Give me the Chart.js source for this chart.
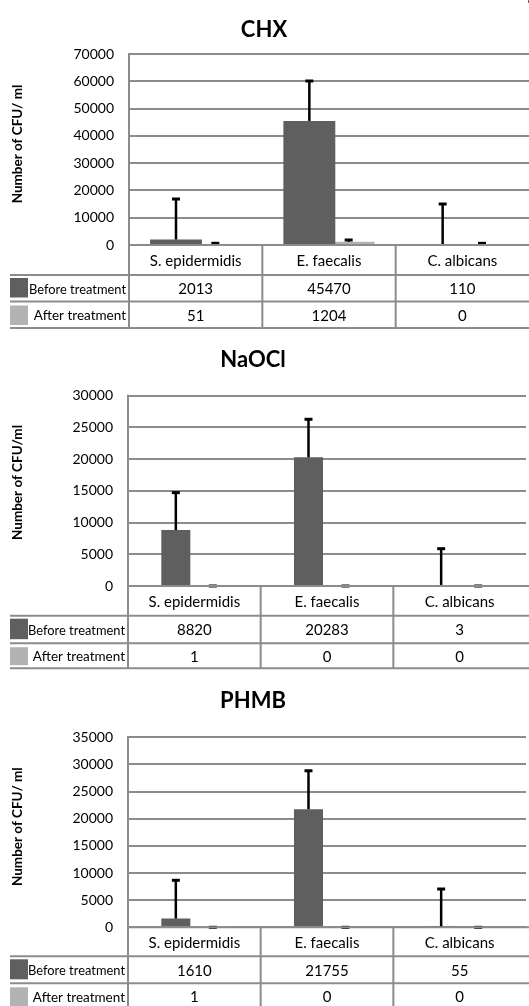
<!DOCTYPE html>
<html><head><meta charset="utf-8">
<script src="https://cdn.jsdelivr.net/npm/chart.js@4.4.1/dist/chart.umd.min.js"></script>
<style>
html,body{margin:0;padding:0;background:#fff;width:529px;height:1006px;overflow:hidden;position:relative;}
.wrap{position:absolute;left:0;width:529px;}
#frag{position:absolute;left:15px;top:-16px;font-family:"Liberation Serif",serif;font-size:21px;line-height:17px;white-space:nowrap;word-spacing:17px;color:#111;}
</style></head><body>
<div id="frag">was evident decrease in the number of microorganisms</div>
<div class="wrap" style="top:0;height:330px"><canvas id="c1"></canvas></div>
<div class="wrap" style="top:330px;height:340px"><canvas id="c2"></canvas></div>
<div class="wrap" style="top:670px;height:336px"><canvas id="c3"></canvas></div>
<script>
const categories = ["S. epidermidis", "E. faecalis", "C. albicans"];
const seriesNames = ["Before treatment", "After treatment"];

const chxBefore = [2013, 45470, 110];
const chxAfter = [51, 1204, 0];
const chxErrBefore = [14840, 14640, 14910];
const chxErrAfter = [570, 630, 620];

const naoclBefore = [8820, 20283, 3];
const naoclAfter = [1, 0, 0];
const naoclErrBefore = [5900, 6000, 5880];
const naoclErrAfter = [0, 0, 0];

const phmbBefore = [1610, 21755, 55];
const phmbAfter = [1, 0, 0];
const phmbErrBefore = [7050, 7080, 7000];
const phmbErrAfter = [0, 0, 0];

const chxAxis = {max: 70000, step: 10000};
const naoclAxis = {max: 30000, step: 5000};
const phmbAxis = {max: 35000, step: 5000};

const DARK = '#5f5f5f', LIGHT = '#b3b3b3', LINE = '#8c8c8c';

function build(id, cfg) {
  const plugin = {
    id: 'extras_' + id,
    afterDatasetsDraw(chart) {
      const ctx = chart.ctx, y = chart.scales.y;
      [cfg.errBefore, cfg.errAfter].forEach((errs, di) => {
        const meta = chart.getDatasetMeta(di);
        const vals = chart.data.datasets[di].data;
        meta.data.forEach((bar, j) => {
          const base = y.getPixelForValue(vals[j]);
          const top = y.getPixelForValue(vals[j] + errs[j]);
          ctx.save();
          ctx.strokeStyle = '#000';
          ctx.lineWidth = 2.5;
          ctx.beginPath(); ctx.moveTo(bar.x, base); ctx.lineTo(bar.x, top); ctx.stroke();
          ctx.lineWidth = 3;
          ctx.beginPath(); ctx.moveTo(bar.x - 4, top); ctx.lineTo(bar.x + 4, top); ctx.stroke();
          ctx.restore();
        });
      });
    },
    afterDraw(chart) {
      const ctx = chart.ctx, ca = chart.chartArea, x = chart.scales.x;
      const W = chart.width;
      const y0 = ca.bottom, y1 = y0 + cfg.rows[0], y2 = y1 + cfg.rows[1], y3 = y2 + cfg.rows[2];
      ctx.save();
      ctx.strokeStyle = LINE; ctx.lineWidth = 2;
      const ln = (a, b, c, d) => { ctx.beginPath(); ctx.moveTo(a, b); ctx.lineTo(c, d); ctx.stroke(); };
      ln(ca.left, y0, W, y0);
      ln(10, y1, W, y1); ln(10, y2, W, y2); ln(10, y3, W, y3);
      ln(ca.left, ca.top - 1, ca.left, y3);
      const n = categories.length;
      for (let i = 1; i < n; i++) {
        const bx = (x.getPixelForValue(i - 1) + x.getPixelForValue(i)) / 2;
        ln(bx, y0, bx, y3);
      }
      ctx.fillStyle = DARK; ctx.fillRect(10, y1 + 3, 18, cfg.rows[1] - 7);
      ctx.fillStyle = LIGHT; ctx.fillRect(10, y2 + 4, 18, cfg.rows[2] - 7);
      ctx.fillStyle = '#000';
      ctx.textBaseline = 'middle';
      ctx.textAlign = 'right';
      ctx.font = '13.5px Lato';
      ctx.fillText(seriesNames[0], ca.left - 3, (y1 + y2) / 2 + 1, 97);
      ctx.fillText(seriesNames[1], ca.left - 3, (y2 + y3) / 2 + 1, 95);
      ctx.textAlign = 'center';
      ctx.font = '15px Lato';
      for (let i = 0; i < n; i++) {
        const cx = x.getPixelForValue(i);
        ctx.fillText(categories[i], cx, (y0 + y1) / 2 + 1);
        ctx.fillText(String(cfg.before[i]), cx, (y1 + y2) / 2 + 1);
        ctx.fillText(String(cfg.after[i]), cx, (y2 + y3) / 2 + 1);
      }
      ctx.font = 'bold 22px Lato';
      ctx.textBaseline = 'alphabetic';
      ctx.fillText(cfg.title, cfg.titleX, cfg.titleBase);
      ctx.translate(18, cfg.yTitleY);
      ctx.rotate(-Math.PI / 2);
      ctx.font = 'bold 13.5px Lato';
      ctx.textBaseline = 'middle';
      ctx.fillText(cfg.yTitle, 0, 0);
      ctx.restore();
    }
  };
  return new Chart(document.getElementById(id), {
    type: 'bar',
    data: {
      labels: categories,
      datasets: [
        {label: seriesNames[0], data: cfg.before, backgroundColor: DARK, borderWidth: 0},
        {label: seriesNames[1], data: cfg.after, backgroundColor: LIGHT, borderWidth: 0}
      ]
    },
    options: {
      responsive: true, maintainAspectRatio: false, animation: false,
      layout: {padding: {top: cfg.padTop, bottom: cfg.padBottom, left: 0, right: cfg.padRight}},
      datasets: {bar: {categoryPercentage: cfg.catPct, barPercentage: cfg.barPct}},
      plugins: {legend: {display: false}, tooltip: {enabled: false}, title: {display: false}},
      scales: {
        x: {display: false, offset: true},
        y: {
          min: 0, max: cfg.axis.max,
          ticks: {stepSize: cfg.axis.step, padding: 15, color: '#000', font: {family: 'Lato', size: 14}, callback: v => String(v)},
          grid: {color: LINE, lineWidth: 2, drawTicks: false},
          border: {display: true, color: '#888', width: 2},
          afterFit(s) { s.width = cfg.left; }
        }
      }
    },
    plugins: [plugin]
  });
}

build('c1', {title: 'CHX', titleX: 264, titleBase: 37, yTitle: 'Number of CFU/ ml', yTitleY: 144,
  before: chxBefore, after: chxAfter, errBefore: chxErrBefore, errAfter: chxErrAfter, axis: chxAxis,
  padTop: 54, padBottom: 85, padRight: 0, left: 129, catPct: 0.59, barPct: 1.32, rows: [30, 26.5, 26.5]});
build('c2', {title: 'NaOCl', titleX: 253, titleBase: 36.7, yTitle: 'Number of CFU/ml', yTitleY: 152.5,
  before: naoclBefore, after: naoclAfter, errBefore: naoclErrBefore, errAfter: naoclErrAfter, axis: naoclAxis,
  padTop: 65.7, padBottom: 84, padRight: 3, left: 128, catPct: 0.558, barPct: 0.784, rows: [29.7, 27.5, 25]});
build('c3', {title: 'PHMB', titleX: 253, titleBase: 38.3, yTitle: 'Number of CFU/ ml', yTitleY: 156.7,
  before: phmbBefore, after: phmbAfter, errBefore: phmbErrBefore, errAfter: phmbErrAfter, axis: phmbAxis,
  padTop: 67.3, padBottom: 78.7, padRight: 3, left: 128, catPct: 0.558, barPct: 0.784, rows: [29, 27, 26]});
</script>
</body></html>
